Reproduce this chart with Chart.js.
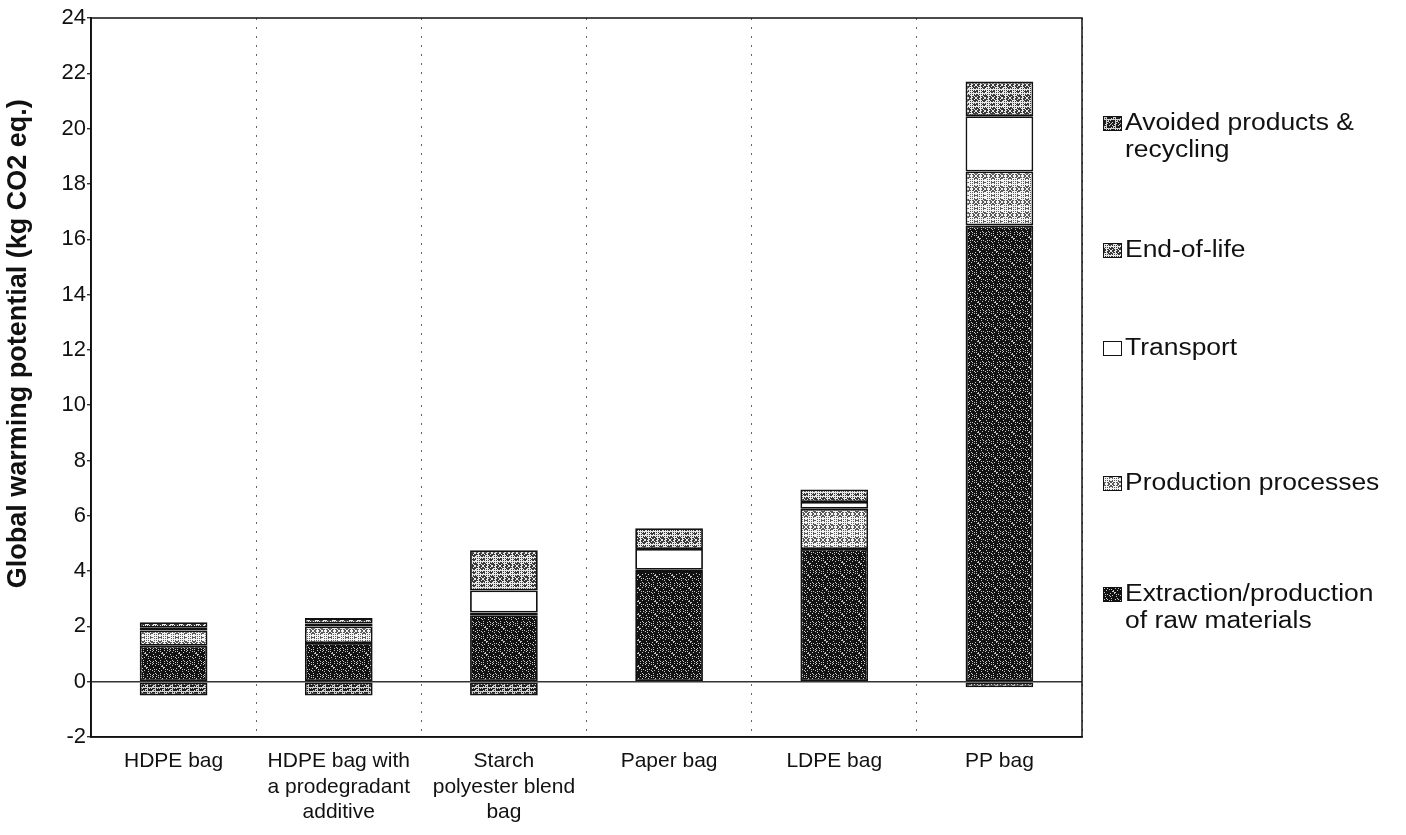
<!DOCTYPE html>
<html>
<head>
<meta charset="utf-8">
<script src="https://cdn.jsdelivr.net/npm/chart.js@4/dist/chart.umd.min.js"></script>
<style>
  body { margin: 0; background: #fff; font-family: "Liberation Sans", Arial, sans-serif; }
  #wrap { position: relative; width: 1406px; height: 835px; }
  #legend { position: absolute; left: 1103px; top: 0; color: #111; font-size: 23px; }
  .item { position: absolute; left: 0; white-space: nowrap; line-height: 27px; }
  .box { position: absolute; left: 0; top: 7px; width: 17px; height: 13px; border: 1px solid #111; }
  .txt { position: absolute; left: 22px; top: 0; transform: scaleX(1.15); transform-origin: left top; }
</style>
</head>
<body>
<div id="wrap">
  <canvas id="bar-chart" width="1406" height="835"></canvas>
  <div id="legend"></div>
</div>
<script>
const categories = [
  ["HDPE bag"],
  ["HDPE bag with", "a prodegradant", "additive"],
  ["Starch", "polyester blend", "bag"],
  ["Paper bag"],
  ["LDPE bag"],
  ["PP bag"]
];
const extraction = [1.3, 1.4, 2.4, 4.0, 4.8, 16.5];
const production = [0.55, 0.6, 0.1, 0.05, 1.45, 1.95];
const transport = [0.1, 0.1, 0.8, 0.75, 0.25, 2.0];
const endOfLife = [0.2, 0.2, 1.45, 0.75, 0.45, 1.25];
const avoided = [-0.5, -0.5, -0.5, 0, 0, -0.2];
const yTicks = [-2, 0, 2, 4, 6, 8, 10, 12, 14, 16, 18, 20, 22, 24];

// grey speckled tiles, like the scanned print
function speckleTile(base, dot, mod, keep) {
  const c = document.createElement("canvas");
  c.width = 17; c.height = 13;
  const g = c.getContext("2d");
  g.fillStyle = base;
  g.fillRect(0, 0, c.width, c.height);
  g.fillStyle = dot;
  for (let y = 0; y < c.height; y++) {
    for (let x = 0; x < c.width; x++) {
      if ((x * 37 + y * 91 + x * y * 13) % mod < keep) g.fillRect(x, y, 1, 1);
    }
  }
  return c;
}

const tiles = {
  extraction: speckleTile("#121212", "#c8c8c8", 11, 2),
  production: speckleTile("#5a5a5a", "#f4f4f4", 9, 5),
  transport: null,
  endOfLife: speckleTile("#3a3a3a", "#e8e8e8", 9, 4),
  avoided: speckleTile("#1e1e1e", "#d0d0d0", 9, 3)
};

const ctx = document.getElementById("bar-chart").getContext("2d");
const fillOf = t => (t ? ctx.createPattern(t, "repeat") : "#ffffff");

const series = [
  { label: "Extraction/production of raw materials", lines: ["Extraction/production", "of raw materials"], data: extraction, tile: tiles.extraction, top: 580 },
  { label: "Production processes", lines: ["Production processes"], data: production, tile: tiles.production, top: 469 },
  { label: "Transport", lines: ["Transport"], data: transport, tile: tiles.transport, top: 334 },
  { label: "End-of-life", lines: ["End-of-life"], data: endOfLife, tile: tiles.endOfLife, top: 236 },
  { label: "Avoided products & recycling", lines: ["Avoided products &", "recycling"], data: avoided, tile: tiles.avoided, top: 109 }
];

const frame = {
  id: "frame",
  afterDraw(chart) {
    const a = chart.chartArea, c = chart.ctx;
    c.save();
    c.strokeStyle = "#111";
    c.lineWidth = 1.5;
    c.strokeRect(a.left, a.top, a.right - a.left, a.bottom - a.top);
    c.restore();
  }
};

window.myBar = new Chart(ctx, {
  type: "bar",
  data: {
    labels: categories,
    datasets: series.map(s => ({
      label: s.label,
      data: s.data,
      backgroundColor: fillOf(s.tile),
      borderColor: "#111",
      borderWidth: 1.8,
      borderSkipped: false,
      stack: "bags"
    }))
  },
  options: {
    responsive: false,
    animation: false,
    layout: { padding: { top: 18, right: 324, left: 0, bottom: 0 } },
    categoryPercentage: 1,
    barPercentage: 0.41,
    plugins: { legend: { display: false }, tooltip: { enabled: false } },
    scales: {
      x: {
        stacked: true,
        offset: true,
        grid: {
          offset: true,
          color: "#666",
          lineWidth: 1,
          drawTicks: false
        },
        border: { display: true, color: "#111", width: 1.5, dash: [2, 7] },
        ticks: {
          color: "#111",
          font: { family: "Liberation Sans, Arial", size: 21 },
          padding: 12,
          maxRotation: 0,
          autoSkip: false
        },
        afterFit(scale) { scale.height = 98; }
      },
      y: {
        stacked: true,
        min: -2,
        max: 24,
        afterBuildTicks(scale) { scale.ticks = yTicks.map(v => ({ value: v })); },
        grid: {
          color: c => (c.tick && c.tick.value === 0 ? "#333" : "rgba(0,0,0,0)"),
          lineWidth: 1.4,
          tickColor: "#333",
          tickLength: 4
        },
        border: { display: true, color: "#111", width: 1.8 },
        ticks: {
          color: "#111",
          font: { family: "Liberation Sans, Arial", size: 22 },
          padding: 1
        },
        title: {
          display: true,
          // leading spaces nudge the rotated title upward, as in the original
          text: "         Global warming potential (kg CO2 eq.)",
          color: "#111",
          font: { family: "Liberation Sans, Arial", size: 27, weight: "bold" },
          padding: { top: 2, bottom: 4 }
        },
        afterFit(scale) { scale.width = 91; }
      }
    }
  },
  plugins: [frame]
});

// legend on the right, spaced like the original
const legend = document.getElementById("legend");
series.forEach(s => {
  const item = document.createElement("div");
  item.className = "item";
  item.style.top = s.top + "px";
  const box = document.createElement("div");
  box.className = "box";
  if (s.tile) box.style.backgroundImage = "url(" + s.tile.toDataURL() + ")";
  else box.style.background = "#fff";
  const txt = document.createElement("div");
  txt.className = "txt";
  txt.innerHTML = s.lines.map(l => l.replace(/&/g, "&amp;")).join("<br>");
  item.appendChild(box);
  item.appendChild(txt);
  legend.appendChild(item);
});
</script>
</body>
</html>
